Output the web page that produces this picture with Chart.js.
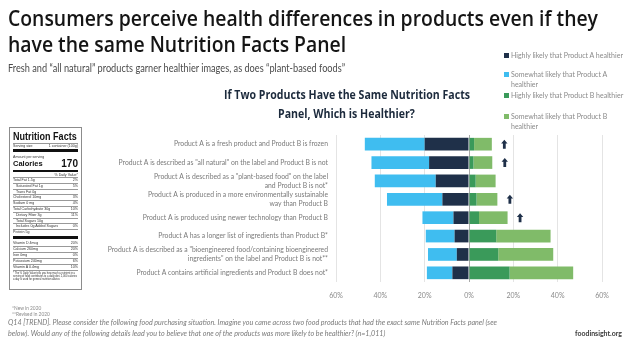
<!DOCTYPE html>
<html><head><meta charset="utf-8">
<script src="https://cdn.jsdelivr.net/npm/chart.js@4.4.0/dist/chart.umd.min.js"></script>
<style>
html,body{margin:0;padding:0;background:#fff;}
body{width:640px;height:346px;position:relative;overflow:hidden;font-family:Lato,'Open Sans',sans-serif;}
#cv{position:absolute;left:0;top:0;}
.t{position:absolute;white-space:nowrap;transform-origin:0 50%;line-height:1;}
#title1,#title2{font-family:'Open Sans',Lato,sans-serif;font-weight:600;font-size:21px;color:#151515;left:8px;}
#title1{top:8px;} #title2{top:34px;}
#sub{left:8px;top:62px;font-size:11.5px;color:#4a4a4a;}
.ct{font-family:'Open Sans',Lato,sans-serif;font-weight:700;font-size:12.5px;color:#1c2a3c;}
#legend .sw{position:absolute;width:5px;height:5px;}
#legend .lt{position:absolute;font-size:7px;color:#8a8a8a;line-height:10px;white-space:nowrap;}
#nf{position:absolute;left:9px;top:127px;width:73px;height:163px;border:1px solid #8c8c8c;box-sizing:border-box;font-family:'Liberation Sans',Arial,sans-serif;color:#333;}
#nf .r{position:absolute;left:3px;right:3px;font-size:3.6px;line-height:4px;white-space:nowrap;}
#nf .r span{position:absolute;right:0;}
#nf .bar{position:absolute;left:3px;right:3px;background:#111;}
#nf .ln{position:absolute;left:3px;right:3px;height:0;border-top:0.5px solid #999;}
.fn{position:absolute;left:12px;font-size:4.8px;color:#8a8a8a;}
.q{position:absolute;left:8px;font-size:7px;font-style:italic;color:#7a7a7a;}
#fi{position:absolute;left:575px;top:329px;font-size:8px;font-weight:700;color:#3a3a3a;}
</style></head>
<body>
<canvas id="cv" width="640" height="346"></canvas>
<div id="title1" class="t" data-w="590">Consumers perceive health differences in products even if they</div>
<div id="title2" class="t">have the same Nutrition Facts Panel</div>
<div id="sub" class="t" data-w="337">Fresh and “all natural” products garner healthier images, as does “plant-based foods”</div>
<div id="ct1" class="t ct" data-w="246" data-cx="347" style="top:89px">If Two Products Have the Same Nutrition Facts</div>
<div id="ct2" class="t ct" data-cx="347" style="top:108px">Panel, Which is Healthier?</div>
<div id="legend"></div>
<div id="nf"></div>
<div class="fn" style="top:305px">*New in 2020</div>
<div class="fn" style="top:311px">**Revised in 2020</div>
<div class="q t" data-w="489" style="top:319px">Q14 [TREND]. Please consider the following food purchasing situation. Imagine you came across two food products that had the exact same Nutrition Facts panel (see</div>
<div class="q t" id="q2" style="top:330px">below). Would any of the following details lead you to believe that one of the products was more likely to be healthier? (n=1,011)</div>
<div id="fi" class="t" data-w="47">foodinsight.org</div>
<script>
// ---- data ----
const categories = [
  "Product A is a fresh product and Product B is frozen",
  "Product A is described as \"all natural\" on the label and Product B is not",
  ["Product A is described as a \"plant-based food\" on the label", "and Product B is not*"],
  ["Product A is produced in a more environmentally sustainable", "way than Product B"],
  "Product A is produced using newer technology than Product B",
  "Product A has a longer list of ingredients than Product B*",
  ["Product A is described as a \"bioengineered food/containing bioengineered", "ingredients\" on the label and Product B is not**"],
  "Product A contains artificial ingredients and Product B does not*"
];
const highlyA   = [20, 18, 15, 12, 7, 6.5, 5.5, 7.5];
const somewhatA = [27, 26, 27.5, 25, 14, 13, 13, 11.5];
const highlyB   = [2.3, 2, 3, 3.4, 4.5, 12.3, 13.2, 18.3];
const somewhatB = [8, 8.5, 9, 9.4, 12.9, 24.5, 24.8, 28.7];
const trendUp   = [0, 1, 3, 4];
const xTickValues = [-60, -40, -20, 0, 20, 40, 60];
const seriesNames = [
  "Highly likely that Product A healthier",
  "Somewhat likely that Product A healthier",
  "Highly likely that Product B healthier",
  "Somewhat likely that Product B healthier"
];
const seriesColors = ["#1f3049", "#3fbdf0", "#3a9a5a", "#80bb69"];
const nfRows = [
  ["Total Fat 1.5g","2%",true],["Saturated Fat 1g","5%",false],["Trans Fat 0g","",false],
  ["Cholesterol 10mg","3%",true],["Sodium 0 mg","4%",true],["Total Carbohydrate 30g","10%",true],
  ["Dietary Fiber 3g","11%",false],["Total Sugars 10g","",false],["Includes 0g Added Sugars","0%",false],
  ["Protein 5g","",true]
];
const nfRows2 = [["Vitamin D 4mcg","20%"],["Calcium 260mg","20%"],["Iron 0mg","0%"],["Potassium 240mg","6%"],["Vitamin A 0.4mg","10%"]];

// ---- legend (html built from series arrays) ----
const legendRows = [[50,[seriesNames[0]]],[69,["Somewhat likely that Product A","healthier"]],[90,[seriesNames[2]]],[111,["Somewhat likely that Product B","healthier"]]];
const lg = document.getElementById('legend');
legendRows.forEach((r,i)=>{
  const sw=document.createElement('div');sw.className='sw';sw.style.left='504px';sw.style.top=(r[0]+3)+'px';sw.style.background=seriesColors[i];lg.appendChild(sw);
  r[1].forEach((line,k)=>{const d=document.createElement('div');d.className='lt';d.style.left='511px';d.style.top=(r[0]+k*10)+'px';d.textContent=line;lg.appendChild(d);});
});

// ---- nutrition facts panel ----
const nf=document.getElementById('nf');
function add(html){nf.insertAdjacentHTML('beforeend',html);}
add('<div class="r" style="top:3px;font-size:11px;line-height:11px;font-weight:700;color:#111" id="nfh">Nutrition Facts</div>');
add('<div class="ln" style="top:15px"></div>');
add('<div class="r" style="top:16px">Serving size<span>1 container (100g)</span></div>');
add('<div class="bar" style="top:21px;height:3px"></div>');
add('<div class="r" style="top:27px">Amount per serving</div>');
add('<div class="r" style="top:31px;font-size:7.5px;line-height:9px;font-weight:700;color:#111">Calories<span style="font-size:10px;line-height:9px">170</span></div>');
add('<div class="bar" style="top:42px;height:1.5px"></div>');
add('<div class="r" style="top:45px"><span>% Daily Value*</span></div>');
let yy=50;
nfRows.forEach(r=>{add('<div class="ln" style="top:'+(yy-1)+'px"></div>');add('<div class="r" style="top:'+yy+'px;'+(r[2]?'':'padding-left:3px;')+'">'+r[0]+'<span>'+r[1]+'</span></div>');yy+=5.8;});
add('<div class="bar" style="top:'+(yy)+'px;height:3px"></div>');
yy+=5;
nfRows2.forEach(r=>{add('<div class="r" style="top:'+yy+'px">'+r[0]+'<span>'+r[1]+'</span></div>');add('<div class="ln" style="top:'+(yy+5)+'px"></div>');yy+=6;});
add('<div class="r" style="top:'+(yy+1)+'px;font-size:2.6px;line-height:3px;white-space:normal">* The % Daily Value tells you how much a nutrient in a serving of food contributes to a daily diet. 2,000 calories a day is used for general nutrition advice.</div>');

// ---- chart ----
const arrowPlugin = {
  id:'trendArrows',
  afterDatasetsDraw(chart){
    const {ctx, scales:{x, y}} = chart;
    ctx.save(); ctx.fillStyle = seriesColors[0];
    trendUp.forEach(i=>{
      const xc = x.getPixelForValue(highlyB[i] + somewhatB[i]) + 12.5;
      const yc = y.getPixelForValue(i);
      ctx.beginPath();
      ctx.moveTo(xc, yc-4.5); ctx.lineTo(xc+3.2, yc-0.8); ctx.lineTo(xc+1.4, yc-0.8);
      ctx.lineTo(xc+1.4, yc+4.5); ctx.lineTo(xc-1.4, yc+4.5); ctx.lineTo(xc-1.4, yc-0.8);
      ctx.lineTo(xc-3.2, yc-0.8); ctx.closePath(); ctx.fill();
    });
    ctx.restore();
  }
};
const neg = a => a.map(v => -v);
new Chart(document.getElementById('cv'), {
  type:'bar',
  data:{
    labels: categories,
    datasets:[
      {label:seriesNames[0], data:neg(highlyA), backgroundColor:seriesColors[0]},
      {label:seriesNames[1], data:neg(somewhatA), backgroundColor:seriesColors[1]},
      {label:seriesNames[2], data:highlyB, backgroundColor:seriesColors[2]},
      {label:seriesNames[3], data:somewhatB, backgroundColor:seriesColors[3]}
    ]
  },
  options:{
    indexAxis:'y', responsive:false, animation:false,
    layout:{padding:{left:0,right:38,top:135,bottom:44}},
    datasets:{bar:{barPercentage:0.69, categoryPercentage:1, borderWidth:0}},
    plugins:{legend:{display:false}, tooltip:{enabled:false}, title:{display:false}},
    scales:{
      x:{stacked:true, min:-60, max:60,
         afterBuildTicks: s => { s.ticks = xTickValues.map(v=>({value:v})); },
         afterFit: s => { s.height = 20; },
         border:{display:false},
         grid:{drawTicks:false, color: c => (c.tick && c.tick.value===0) ? '#a9a9a9' : '#e4e4e4', lineWidth:1},
         ticks:{padding:10, color:'#8a8a8a', font:{family:'Lato', size:7}, callback: v => Math.abs(v) + '%'}},
      y:{stacked:true,
         afterFit: s => { s.width = 336; },
         border:{display:false},
         grid:{display:false, drawTicks:false},
         ticks:{autoSkip:false, padding:8, color:'#7a7a7a', font:{family:'Lato', size:6.8, lineHeight:1.3}}}
    }
  },
  plugins:[arrowPlugin]
});

// ---- fit texts ----
function fit(){
  const t1=document.getElementById('title1');
  const s1=t1.dataset.w/t1.getBoundingClientRect().width;
  t1.style.transform='scaleX('+s1+')';
  document.getElementById('title2').style.transform='scaleX('+s1+')';
  document.querySelectorAll('[data-w]').forEach(el=>{ if(el.id==='title1')return; const s=el.dataset.w/el.getBoundingClientRect().width; el.dataset.s=s; el.style.transform='scaleX('+s+')';});
  const ct1=document.getElementById('ct1'), ct2=document.getElementById('ct2');
  const s=+ct1.dataset.s;
  ct2.style.transform='scaleX('+s+')';
  [ct1,ct2].forEach(el=>{const w=el.offsetWidth*s; el.style.left=(+el.dataset.cx - w/2)+'px';});
  const qs=document.querySelectorAll('.q'); qs[1].style.transform=qs[0].style.transform;
  const h=document.getElementById('nfh'); const hs=64/h.scrollWidth; h.style.transform='scaleX('+hs+')'; h.style.transformOrigin='0 0';
}
if(document.fonts&&document.fonts.ready){document.fonts.ready.then(fit);}else{fit();}
</script>
</body></html>
